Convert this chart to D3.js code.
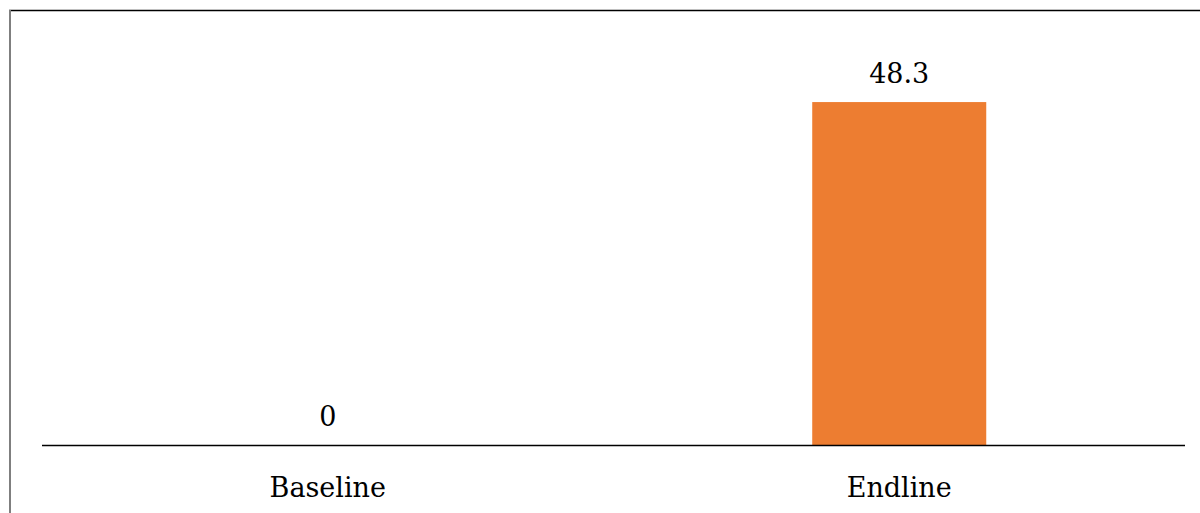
<!DOCTYPE html>
<html>
<head>
<meta charset="utf-8">
<script src="https://cdn.jsdelivr.net/npm/d3@7"></script>
<style>
  html, body { margin: 0; padding: 0; background: #fff; }
  svg { display: block; }
  text { font-family: "DejaVu Serif", serif; fill: #000; }
</style>
</head>
<body>
<script>
// Share of respondents at each survey round
const categories = ["Baseline", "Endline"];
const values = [0, 48.3];
const valueLabels = ["0", "48.3"];

const width = 1200, height = 513;
const plot = { left: 42, right: 1185, top: 19, bottom: 445 };

const svg = d3.select("body").append("svg")
  .attr("width", width).attr("height", height);

// Frame: top rule and left edge
svg.append("line")
  .attr("x1", 9).attr("x2", width).attr("y1", 10.5).attr("y2", 10.5)
  .attr("stroke", "#000").attr("stroke-width", 1.6);
svg.append("line")
  .attr("x1", 10).attr("x2", 10).attr("y1", 10).attr("y2", height)
  .attr("stroke", "#7f7f7f").attr("stroke-width", 2);

const x = d3.scaleBand()
  .domain(categories)
  .range([plot.left, plot.right])
  .paddingInner(0.6955)
  .paddingOuter(0.3478);

const y = d3.scaleLinear()
  .domain([0, 60])
  .range([plot.bottom, plot.top]);

// Bars
svg.append("g").selectAll("rect")
  .data(categories)
  .join("rect")
  .attr("x", d => x(d))
  .attr("width", x.bandwidth())
  .attr("y", (d, i) => y(values[i]))
  .attr("height", (d, i) => y(0) - y(values[i]))
  .attr("fill", "#ED7D31");

// Value labels above bars
svg.append("g").selectAll("text")
  .data(categories)
  .join("text")
  .attr("x", d => x(d) + x.bandwidth() / 2)
  .attr("y", (d, i) => y(values[i]) - 19)
  .attr("text-anchor", "middle")
  .attr("font-size", 27)
  .text((d, i) => valueLabels[i]);

// Category axis
const xAxis = svg.append("g")
  .attr("transform", `translate(0,${plot.bottom})`)
  .call(d3.axisBottom(x).tickSize(0).tickPadding(0));
xAxis.select(".domain")
  .attr("d", `M${plot.left},0.5H${plot.right}`)
  .attr("stroke", "#000").attr("stroke-width", 1.5);
xAxis.selectAll(".tick text")
  .attr("y", 52)
  .attr("dy", 0)
  .attr("font-size", 27)
  .attr("font-family", "DejaVu Serif, serif")
  .attr("fill", "#000");
</script>
</body>
</html>
